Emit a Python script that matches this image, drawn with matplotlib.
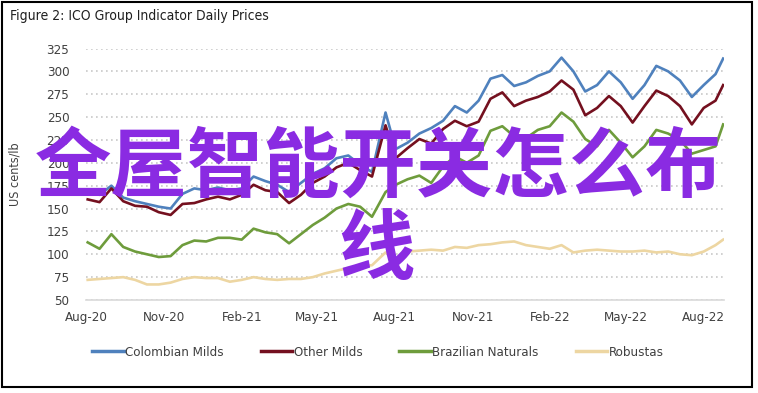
import numpy as np
import pandas as pd
import matplotlib
matplotlib.use("Agg")
import matplotlib.pyplot as plt
import matplotlib.dates as mdates
from matplotlib.patches import Rectangle
from matplotlib.lines import Line2D
from matplotlib import font_manager

# biweekly readings of the ICO indicator prices (US cents/lb)
dates = pd.to_datetime([
    "2020-08-03", "2020-08-17", "2020-08-31", "2020-09-14", "2020-09-28",
    "2020-10-12", "2020-10-26", "2020-11-09", "2020-11-23", "2020-12-07",
    "2020-12-21", "2021-01-04", "2021-01-18", "2021-02-01", "2021-02-15",
    "2021-03-01", "2021-03-15", "2021-03-29", "2021-04-12", "2021-04-26",
    "2021-05-10", "2021-05-24", "2021-06-07", "2021-06-21", "2021-07-05",
    "2021-07-21", "2021-08-02", "2021-08-16", "2021-08-30", "2021-09-13",
    "2021-09-27", "2021-10-11", "2021-10-25", "2021-11-08", "2021-11-22",
    "2021-12-06", "2021-12-20", "2022-01-03", "2022-01-17", "2022-01-31",
    "2022-02-14", "2022-02-28", "2022-03-14", "2022-03-28", "2022-04-11",
    "2022-04-25", "2022-05-09", "2022-05-23", "2022-06-06", "2022-06-20",
    "2022-07-04", "2022-07-18", "2022-08-01", "2022-08-15", "2022-08-24",
])

colombian = [170, 165, 175, 162, 158, 155, 152, 150, 166, 172,
             170, 173, 170, 172, 185, 180, 176, 168, 178, 188,
             194, 205, 208, 198, 190, 255, 215, 222, 232, 238,
             246, 262, 255, 268, 292, 296, 284, 288, 295, 300,
             315, 300, 278, 285, 300, 288, 270, 285, 306, 300,
             290, 272, 285, 297, 314]

other_milds = [160, 157, 172, 158, 153, 152, 146, 143, 155, 156,
               160, 163, 160, 165, 176, 170, 168, 156, 165, 178,
               185, 195, 200, 192, 185, 241, 205, 216, 226, 221,
               237, 246, 240, 245, 270, 277, 262, 268, 272, 278,
               290, 280, 252, 260, 273, 262, 244, 262, 279, 273,
               262, 242, 260, 268, 285]

brazilian = [113, 106, 122, 108, 103, 100, 97, 98, 110, 115,
             114, 118, 118, 116, 128, 124, 122, 112, 122, 132,
             140, 150, 155, 152, 141, 168, 176, 182, 186, 178,
             196, 207, 200, 208, 235, 240, 229, 227, 236, 240,
             255, 245, 226, 218, 236, 222, 206, 218, 236, 232,
             225, 210, 214, 218, 242]

robustas = [72, 73, 74, 75, 72, 67, 67, 69, 73, 75,
            74, 74, 70, 72, 75, 73, 72, 73, 73, 75,
            79, 82, 85, 87, 88, 102, 94, 103, 104, 105,
            104, 108, 107, 110, 111, 113, 114, 110, 108, 106,
            110, 102, 104, 105, 104, 103, 103, 104, 102, 103,
            100, 99, 103, 110, 116]

series_names = ["Colombian Milds", "Other Milds", "Brazilian Naturals", "Robustas"]
series_colors = ["#4f81bd", "#74101f", "#6e9c3c", "#edd6a2"]
yticks = [50, 75, 100, 125, 150, 175, 200, 225, 250, 275, 300, 325]

# narrow face if there is one, otherwise condensed DejaVu
installed = {f.name for f in font_manager.fontManager.ttflist}
if "Liberation Sans Narrow" in installed:
    plt.rcParams["font.family"] = ["Liberation Sans Narrow", "DejaVu Sans"]
else:
    plt.rcParams["font.family"] = ["DejaVu Sans"]
    plt.rcParams["font.stretch"] = "condensed"

W, H = 758, 393
fig = plt.figure(figsize=(W / 100, H / 100), dpi=100)
fig.patch.set_facecolor("white")

# outer frame
fig.patches.append(Rectangle((2 / W, 1 - 387 / H), 750 / W, 385 / H,
                             transform=fig.transFigure, fill=False,
                             edgecolor="black", linewidth=1.5))

ax = fig.add_axes([86 / W, 1 - 300 / H, (724 - 86) / W, (300 - 48.5) / H])
for vals, name, col in zip([colombian, other_milds, brazilian, robustas],
                           series_names, series_colors):
    ax.plot(dates, vals, color=col, lw=1.9, label=name)

ax.set_ylim(50, 325)
ax.set_yticks(yticks)
ax.set_xlim(pd.Timestamp("2020-08-01"), pd.Timestamp("2022-08-25"))
ax.xaxis.set_major_locator(mdates.MonthLocator(bymonth=[2, 5, 8, 11]))
ax.xaxis.set_major_formatter(mdates.DateFormatter("%b-%y"))
ax.grid(axis="y", linestyle=(0, (1, 2)), color="#c8c8c8", lw=1.2)
ax.set_axisbelow(True)
for s in ["top", "right", "left"]:
    ax.spines[s].set_visible(False)
ax.spines["bottom"].set_color("#d9d9d9")
ax.spines["bottom"].set_linewidth(1.2)
ax.tick_params(length=0, labelsize=9.5, colors="#404040", pad=8)
ax.tick_params(axis="y", pad=12)
ax.set_ylabel("US cents/lb", fontsize=9, color="#404040", labelpad=18)

fig.text(10 / W, 1 - 16 / H, "Figure 2: ICO Group Indicator Daily Prices",
         fontsize=10, color="#202020", va="center", ha="left")

handles = [Line2D([], [], color=c, lw=2.5) for c in series_colors]
fig.legend(handles, series_names, loc="center", bbox_to_anchor=(378 / W, 1 - 352 / H),
           ncol=4, frameon=False, fontsize=9.5, handlelength=2.4,
           handletextpad=0.1, columnspacing=2.8, labelcolor="#404040")

# overlaid watermark text
wm_font = ["Noto Sans CJK SC", "DejaVu Sans"]
fig.text(378 / W, 1 - 168 / H, "全屋智能开关怎么布", family=wm_font, fontsize=55,
         fontweight="bold", stretch="normal", color="#8a2be2", ha="center", va="center")
fig.text(376 / W, 1 - 250 / H, "线", family=wm_font, fontsize=55,
         fontweight="bold", stretch="normal", color="#8a2be2", ha="center", va="center")

fig.savefig("out.png", dpi=100)
